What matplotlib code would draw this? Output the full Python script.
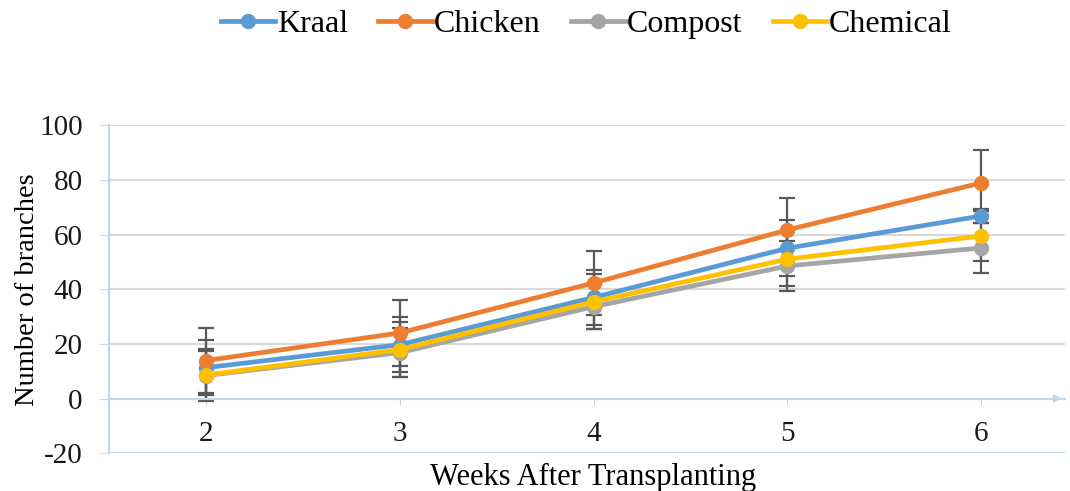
import numpy as np
import matplotlib.pyplot as plt

plt.rcParams['font.family'] = ['Liberation Serif', 'DejaVu Serif']
plt.rcParams['axes.unicode_minus'] = False

weeks = [2, 3, 4, 5, 6]
series = ["Kraal", "Chicken", "Compost", "Chemical"]
kraal = [11.3, 19.7, 37.0, 55.0, 66.8]
chicken = [13.9, 24.0, 42.3, 61.7, 78.9]
compost = [8.4, 16.8, 33.6, 48.5, 55.1]
chemical = [8.6, 17.9, 35.4, 51.0, 59.5]
kraal_err = [10.0, 10.0, 10.0, 10.3, 2.5]
chicken_err = [12.0, 12.0, 11.7, 11.7, 12.2]
compost_err = [9.0, 9.0, 8.0, 9.0, 9.0]
chemical_err = [9.6, 10.0, 10.0, 10.0, 9.2]
yticks = [-20, 0, 20, 40, 60, 80, 100]

colors = ['#5B9BD5', '#ED7D31', '#A5A5A5', '#FFC000']
values = [kraal, chicken, compost, chemical]
errors = [kraal_err, chicken_err, compost_err, chemical_err]

fig = plt.figure(figsize=(10.7, 4.91), dpi=100)
ax = fig.add_axes([0.102, 0.077, 0.893, 0.668])

axis_blue = '#BDD7EE'
grid_gray = '#D9D9D9'

for v in yticks[1:]:
    ax.axhline(v, color=grid_gray, lw=1.5, zorder=0)
ax.axhline(-20, color=axis_blue, lw=1.5, zorder=0)

handles = []
for name, vals, err, col in zip(series, values, errors, colors):
    ax.errorbar(weeks, vals, yerr=err, fmt='none', ecolor='#595959',
                elinewidth=1.6, capsize=6, capthick=1.6, zorder=2)
    h, = ax.plot(weeks, vals, '-o', color=col, lw=3.4, markersize=10,
                 label=name, zorder=3)
    handles.append(h)

ax.set_xlim(1.5, 6.43)
ax.set_ylim(-20, 100)
ax.set_xticks(weeks)
ax.set_yticks(yticks)

for s in ['top', 'right']:
    ax.spines[s].set_visible(False)
ax.spines['bottom'].set_position(('data', 0))
ax.spines['bottom'].set_color(axis_blue)
ax.spines['bottom'].set_linewidth(1.5)
ax.spines['left'].set_color(axis_blue)
ax.spines['left'].set_linewidth(1.5)
ax.annotate('', xy=(1.0, 0), xycoords=('axes fraction', 'data'),
            xytext=(0.985, 0), textcoords=('axes fraction', 'data'),
            arrowprops=dict(arrowstyle='-|>', color=axis_blue, lw=1.5))

ax.tick_params(axis='x', length=4, color=axis_blue, pad=12,
               labelsize=21, labelcolor='#1a1a1a')
ax.tick_params(axis='y', length=7, color=grid_gray, pad=12,
               labelsize=21, labelcolor='#1a1a1a')

ax.set_xlabel("Weeks After Transplanting", fontsize=22)
ax.xaxis.set_label_coords(0.507, -0.03)
ax.set_ylabel("Number of branches", fontsize=20.5)
ax.yaxis.set_label_coords(-0.072, 0.5)

fig.legend(handles=handles, loc='upper center', ncol=4,
           bbox_to_anchor=(0.548, 1.038), frameon=False, fontsize=23,
           handlelength=1.7, handletextpad=0.05, columnspacing=0.95)

fig.savefig('out.png', dpi=100)
